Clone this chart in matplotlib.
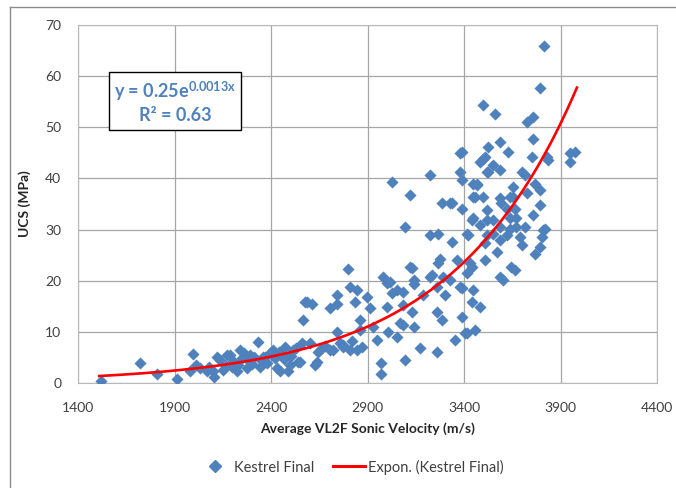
import numpy as np
import matplotlib
matplotlib.use('Agg')
import matplotlib.pyplot as plt
from matplotlib.lines import Line2D
from matplotlib import rc

rc('font', family=['Lato', 'DejaVu Sans'])
rc('mathtext', fontset='custom', rm='Lato', bf='Lato:bold', it='Lato:italic')

# UCS vs average VL2F sonic velocity
vel = [1519, 1721, 1811, 1911, 1994, 1980, 2011, 2030, 2067, 2080, 2101, 2105, 2118, 2136,
       2153, 2165, 2170, 2188, 2196, 2205, 2222, 2231, 2239, 2250, 2260, 2274, 2280, 2291,
       2300, 2310, 2334, 2343, 2350, 2360, 2369, 2380, 2395, 2412, 2420, 2429, 2440, 2447,
       2455, 2465, 2472, 2490, 2498, 2505, 2515, 2530, 2541, 2550, 2559, 2567, 2576, 2585,
       2602, 2611, 2628, 2637, 2645, 2663, 2680, 2706, 2706, 2723, 2740, 2740, 2740, 2760,
       2775, 2775, 2800, 2809, 2809, 2820, 2835, 2844, 2844, 2861, 2861, 2870, 2896, 2913,
       2930, 2947, 2972, 2972, 2982, 2999, 2999, 3008, 3016, 3025, 3025, 3051, 3051, 3068,
       3085, 3085, 3085, 3094, 3094, 3120, 3120, 3129, 3129, 3139, 3139, 3139, 3172, 3189,
       3224, 3224, 3224, 3232, 3258, 3258, 3258, 3267, 3267, 3275, 3284, 3284, 3293, 3301,
       3327, 3327, 3336, 3336, 3353, 3362, 3379, 3379, 3379, 3388, 3388, 3388, 3388, 3388,
       3405, 3413, 3413, 3413, 3422, 3431, 3439, 3439, 3439, 3448, 3448, 3448, 3448, 3457,
       3457, 3465, 3465, 3483, 3483, 3483, 3500, 3500, 3500, 3508, 3508, 3509, 3517, 3517,
       3517, 3517, 3526, 3526, 3552, 3552, 3552, 3560, 3569, 3586, 3586, 3586, 3586, 3586,
       3586, 3594, 3603, 3621, 3621, 3629, 3638, 3638, 3638, 3646, 3655, 3655, 3664, 3664,
       3672, 3672, 3690, 3698, 3698, 3716, 3716, 3724, 3724, 3750, 3759, 3759, 3759, 3768,
       3768, 3794, 3794, 3794, 3794, 3802, 3811, 3812, 3820, 3828, 3837, 3949, 3975, 3949]
ucs = [0.3, 3.9, 1.7, 0.8, 5.7, 2.2, 3.5, 2.8, 2.2, 3.0, 2.2, 1.2, 5.1, 4.4,
       2.5, 3.2, 5.4, 5.4, 3.1, 4.2, 2.2, 3.5, 6.4, 4.8, 5.8, 2.8, 4.4, 5.4,
       3.6, 5.0, 8.0, 3.1, 4.4, 5.1, 5.0, 3.8, 5.8, 6.4, 4.8, 2.8, 6.0, 2.2,
       5.7, 4.6, 7.0, 2.2, 3.5, 5.2, 6.4, 6.8, 4.1, 4.1, 7.7, 12.3, 15.9, 15.8,
       7.7, 15.5, 3.5, 4.1, 6.0, 6.7, 7.2, 6.4, 14.6, 6.4, 15.5, 10.0, 17.2, 7.8,
       7.0, 7.4, 22.3, 18.8, 6.4, 8.2, 15.9, 18.1, 6.4, 12.3, 10.3, 7.0, 16.8, 14.6,
       11.0, 8.4, 3.8, 1.8, 20.7, 19.5, 14.9, 10.0, 19.8, 17.5, 39.3, 18.1, 9.0, 11.6,
       15.2, 11.3, 17.8, 4.4, 30.5, 22.7, 36.7, 13.9, 22.4, 11.0, 19.4, 20.1, 6.7, 17.2,
       40.6, 28.9, 20.7, 21.1, 18.8, 13.9, 6.1, 29.2, 23.4, 24.3, 35.1, 12.3, 20.7, 17.2,
       35.1, 20.1, 27.6, 35.1, 8.4, 24.0, 41.3, 44.9, 18.8, 39.7, 34.1, 45.2, 12.9, 18.5,
       9.7, 29.2, 21.4, 9.7, 28.9, 23.4, 31.8, 22.7, 15.9, 39.0, 36.4, 32.2, 18.1, 36.4,
       10.3, 38.7, 39.0, 43.2, 30.9, 14.9, 54.3, 43.9, 36.4, 27.3, 24.0, 44.2, 41.3, 33.8,
       31.8, 28.9, 46.2, 41.3, 42.6, 31.8, 29.2, 52.7, 25.6, 47.1, 41.6, 36.1, 30.5, 20.7,
       27.9, 35.1, 20.1, 28.9, 34.1, 45.2, 32.2, 36.4, 30.2, 22.7, 38.3, 36.4, 34.1, 22.1,
       30.5, 32.2, 28.6, 41.3, 26.9, 40.6, 30.5, 51.0, 37.1, 44.2, 52.0, 47.8, 32.8, 39.0,
       25.3, 57.8, 37.7, 34.8, 26.6, 28.6, 29.9, 66.0, 30.2, 44.2, 43.6, 44.9, 45.2, 43.2]

# exponential trendline as drawn
trend_a = 0.13
trend_b = 0.00153
trend_range = [1510, 3985]

xticks = [1400, 1900, 2400, 2900, 3400, 3900, 4400]
yticks = [0, 10, 20, 30, 40, 50, 60, 70]

blue = '#4F81BD'
fig = plt.figure(figsize=(6.76, 4.88), dpi=100)
ax = fig.add_axes([78/676, 1-382.7/488, (657-78)/676, (382.7-25.3)/488])

ax.scatter(vel, ucs, marker='D', s=38, color=blue, linewidths=0, zorder=3)
xt = np.linspace(trend_range[0], trend_range[1], 200)
ax.plot(xt, trend_a*np.exp(trend_b*xt), color='#FF0000', lw=1.9, zorder=4)

ax.set_xlim(1400, 4400)
ax.set_ylim(0, 70)
ax.set_xticks(xticks)
ax.set_yticks(yticks)
ax.grid(True, color='#a6a6a6', lw=0.9)
ax.set_axisbelow(True)
for s in ax.spines.values():
    s.set_color('#b8b8b8')
ax.tick_params(length=0, labelsize=10, colors='#404040')
ax.tick_params(axis='y', pad=12)
ax.tick_params(axis='x', pad=14)
ax.set_xlabel('Average VL2F Sonic Velocity (m/s)', fontsize=10, fontweight='bold',
              color='#262626', labelpad=6)
ax.set_ylabel('UCS (MPa)', fontsize=10, fontweight='bold', color='#262626', labelpad=10)

ax.text(0.1675, 0.785, r'y = 0.25e$^{\mathbf{0.0013x}}$' + '\nR\u00b2 = 0.63',
        transform=ax.transAxes, ha='center', va='center', fontsize=13,
        fontweight='bold', color=blue, linespacing=1.3,
        bbox=dict(boxstyle='square,pad=0.3', fc='white', ec='black', lw=1))

h1 = Line2D([], [], marker='D', ls='none', color=blue, markersize=6)
h2 = Line2D([], [], color='#FF0000', lw=2.2)
fig.legend([h1, h2], ['Kestrel Final', 'Expon. (Kestrel Final)'], loc='center',
           bbox_to_anchor=(351/676, 1-467/488), ncol=2, frameon=False, fontsize=10.5,
           handlelength=2.2, handletextpad=0.2, columnspacing=1.3, labelcolor='#404040')

# chart border
fig.add_artist(Line2D([10/676, 1], [1-7/488, 1-7/488], color='#8c8c8c', lw=1))
fig.add_artist(Line2D([10/676, 10/676], [0, 1-7/488], color='#8c8c8c', lw=1))

plt.savefig('out.png', dpi=100)
